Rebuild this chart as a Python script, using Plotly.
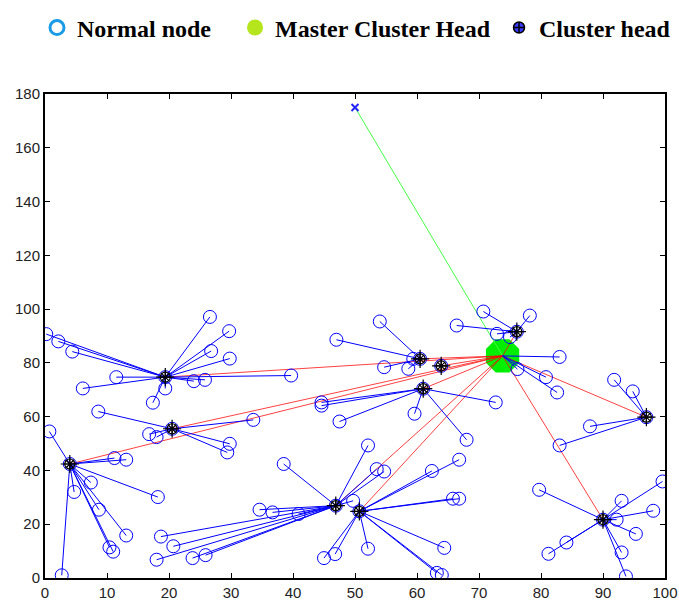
import plotly.graph_objects as go

# ---------------- data ----------------
# cluster heads (A..K)
ch_x = [19.4, 20.5, 4.0, 46.9, 50.7, 60.5, 63.9, 61.0, 76.1, 97.0, 90.0]
ch_y = [74.7, 55.5, 42.4, 26.9, 24.8, 81.5, 78.9, 70.4, 91.6, 59.8, 21.7]

# master cluster head
mch_x = [73.8]
mch_y = [82.6]

# sink / base station
sink_x = [50.0]
sink_y = [175.0]

# normal nodes with index of their cluster head (11 = master cluster head)
node_x = [
    0.2, 2.15, 4.4, 6.1, 11.5, 17.4, 19.4, 24.0, 25.8, 39.7, 26.6, 29.7, 26.8, 29.8,
    8.6, 16.8, 18.0, 33.6, 29.8, 29.4,
    0.7, 2.7, 4.7, 7.4, 8.7, 10.4, 11.0, 13.1, 11.2, 13.1, 18.2,
    38.5, 34.6, 36.7, 40.9, 18.7, 20.7, 18.0, 23.8, 25.9, 49.7, 52.1, 53.5, 54.7,
    45.0, 46.8, 52.1, 64.4, 63.2, 64.0, 62.4, 66.8, 65.8, 66.8,
    54.0, 47.0, 54.7, 58.6, 59.4,
    44.6, 44.6, 47.5, 59.6, 72.7, 68.0,
    70.7, 66.4, 72.9, 78.2, 75.0,
    91.8, 94.8, 87.9, 83.0,
    79.7, 81.2, 84.1, 93.0, 99.6, 98.1, 92.2, 95.3, 93.0, 93.7,
    83.0, 80.8, 82.6, 76.2,
]
node_y = [
    90.7, 88.0, 84.2, 70.5, 74.7, 65.2, 70.5, 73.2, 73.7, 75.3, 97.1, 91.8, 84.4, 81.6,
    61.9, 53.5, 52.4, 58.8, 49.9, 46.7,
    54.5, 1.0, 32.0, 35.5, 25.4, 11.4, 9.8, 15.8, 44.6, 44.0, 30.1,
    42.4, 25.4, 24.4, 23.8, 15.4, 11.8, 6.8, 7.4, 8.5, 28.7, 49.3, 40.5, 39.6,
    7.4, 8.9, 10.9, 11.2, 1.9, 1.1, 39.8, 44.0, 29.5, 29.5,
    95.4, 88.6, 78.4, 77.8, 81.5,
    65.3, 64.1, 58.2, 61.1, 65.3, 51.4,
    99.1, 93.9, 90.8, 97.6, 89.6,
    73.7, 69.4, 56.4, 49.3,
    32.8, 9.0, 13.2, 28.7, 35.9, 25.0, 21.7, 16.4, 9.5, 0.6,
    82.2, 74.7, 69.0, 77.7,
]
node_ch = (
    [0] * 14 + [1] * 6 + [2] * 11 + [3] * 13 + [4] * 10 + [5] * 5 + [7] * 6
    + [8] * 5 + [9] * 4 + [10] * 10 + [11] * 4
)

legend_names = ["Normal node", "Master Cluster Head", "Cluster head"]

# ---------------- build line paths ----------------
head_x = ch_x + mch_x
head_y = ch_y + mch_y

bx, by = [], []
for x, y, c in zip(node_x, node_y, node_ch):
    bx += [head_x[c], x, None]
    by += [head_y[c], y, None]

rx, ry = [], []
for x, y in zip(ch_x, ch_y):
    rx += [mch_x[0], x, None]
    ry += [mch_y[0], y, None]

fig = go.Figure()

# master cluster head (drawn first, lines go on top)
fig.add_trace(go.Scatter(x=mch_x, y=mch_y, mode="markers", showlegend=False,
                         marker=dict(symbol="octagon", size=36, color="#00ee00",
                                     line=dict(width=0)), hoverinfo="skip"))
# sink link (green)
fig.add_trace(go.Scatter(x=sink_x + mch_x, y=sink_y + mch_y, mode="lines",
                         showlegend=False, line=dict(color="#44ff44", width=1)))
# CH -> MCH links (red)
fig.add_trace(go.Scatter(x=rx, y=ry, mode="lines", showlegend=False,
                         line=dict(color="rgba(255,0,0,0.75)", width=1)))
# member links (blue)
fig.add_trace(go.Scatter(x=bx, y=by, mode="lines", showlegend=False,
                         line=dict(color="#0000ff", width=1)))
# normal nodes
fig.add_trace(go.Scatter(x=node_x, y=node_y, mode="markers", showlegend=False,
                         marker=dict(symbol="circle-open", size=13, color="#0000ff",
                                     line=dict(width=1))))
# cluster heads
fig.add_trace(go.Scatter(x=ch_x, y=ch_y, mode="markers", showlegend=False,
                         marker=dict(symbol="circle-open", size=13, color="#0000ff",
                                     line=dict(width=1))))
fig.add_trace(go.Scatter(x=ch_x, y=ch_y, mode="markers", showlegend=False,
                         marker=dict(symbol="circle-open", size=10, color="black",
                                     line=dict(width=1.2))))
fig.add_trace(go.Scatter(x=ch_x, y=ch_y, mode="markers", showlegend=False,
                         marker=dict(symbol="asterisk-open", size=10, color="black",
                                     line=dict(width=1.2, color="black"))))
fig.add_trace(go.Scatter(x=ch_x, y=ch_y, mode="markers", showlegend=False,
                         marker=dict(symbol="cross-thin-open", size=13, color="black",
                                     line=dict(width=1.2, color="black"))))
# sink
fig.add_trace(go.Scatter(x=sink_x, y=sink_y, mode="markers", showlegend=False,
                         marker=dict(symbol="x-thin-open", size=7, color="#2222ff",
                                     line=dict(width=2, color="#2222ff"))))

# legend-only entries (one legend box each, positioned like the reference)
fig.add_trace(go.Scatter(x=[None], y=[None], mode="markers", name=legend_names[0],
                         legend="legend",
                         marker=dict(symbol="circle-open", size=14, color="#1a9be6",
                                     line=dict(width=3, color="#1a9be6"))))
fig.add_trace(go.Scatter(x=[None], y=[None], mode="markers", name=legend_names[1],
                         legend="legend2",
                         marker=dict(symbol="circle", size=20, color="#b5e61d")))
fig.add_trace(go.Scatter(x=[None], y=[None], mode="markers", name=legend_names[2],
                         legend="legend3",
                         marker=dict(symbol="circle-cross", size=11, color="#3a3aff",
                                     line=dict(width=1.5, color="black"))))

axis_common = dict(showgrid=False, zeroline=False, showline=True, linecolor="black",
                   linewidth=2, mirror="ticks", ticks="inside", ticklen=5,
                   tickcolor="black", tickwidth=1, automargin=False,
                   tickfont=dict(family="Liberation Sans, Arial", size=15, color="#222"))

fig.update_xaxes(range=[0, 100], dtick=10, tick0=0, **axis_common)
fig.update_yaxes(range=[0, 180], dtick=20, tick0=0, **axis_common)

legend_font = dict(family="Liberation Serif, Times New Roman", size=24,
                   color="black", weight="bold")
leg_common = dict(orientation="h", xanchor="left", y=1.183, yanchor="top",
                  font=legend_font, bgcolor="rgba(0,0,0,0)", itemsizing="trace")

fig.update_layout(
    width=679, height=608,
    margin=dict(l=45, r=14, t=94, b=30, autoexpand=False),
    plot_bgcolor="white", paper_bgcolor="white",
    showlegend=True,
    legend=dict(x=-0.0129, **leg_common),
    legend2=dict(x=0.3065, **leg_common),
    legend3=dict(x=0.7323, **leg_common),
)

fig.write_html("out.html")
